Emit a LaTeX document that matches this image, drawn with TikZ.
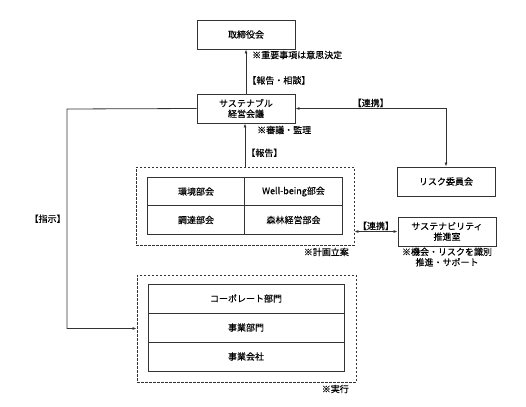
\documentclass[tikz,border=0pt]{standalone}
\usepackage{fontspec}
\setmainfont{Noto Sans CJK JP}[FakeBold=0.2]
\usetikzlibrary{arrows.meta}
\tikzset{
  orgbox/.style = {shape=rectangle, draw=black!80, line width=0.9pt,
                   align=center, inner sep=1pt,
                   minimum width=98pt, minimum height=29pt},
  cell/.style   = {orgbox, minimum width=97.5pt, minimum height=28.5pt},
  row/.style    = {orgbox, minimum width=196pt, minimum height=29pt},
  group/.style  = {shape=rectangle, draw=black!80, line width=0.8pt,
                   dash pattern=on 2.5pt off 1.5pt, inner sep=0pt},
  note/.style   = {inner sep=1pt, align=center},
  link/.style   = {draw=black!80, line width=0.8pt,
                   -{Latex[length=4pt,width=3pt]}},
  duplex/.style = {link, {Latex[length=4pt,width=3pt]}-{Latex[length=4pt,width=3pt]}}
}

\begin{document}
\begin{tikzpicture}[x=1pt, y=-1pt, font=\fontsize{9pt}{10.5pt}\selectfont]
 \useasboundingbox (0,0) rectangle (526,406);

 % top
 \node[orgbox] (board)  at (246,34.5)  {取締役会};
 \node[orgbox] (smc)    at (246,108.5) {サステナブル\\経営会議};
 \node[orgbox] (risk)   at (446,181.5) {リスク委員会};
 \node[orgbox] (office) at (447,231.5) {サステナビリティ\\推進室};

 % planning group
 \node[group, minimum width=218pt, minimum height=78pt] (plan) at (245,206) {};
 \node[cell] (env)    at (196,191.5) {環境部会};
 \node[cell] (well)   at (293.5,191.5) {Well-being部会};
 \node[cell] (proc)   at (196,220) {調達部会};
 \node[cell] (forest) at (293.5,220) {森林経営部会};

 % execution group
 \node[group, minimum width=219pt, minimum height=107pt] (exec) at (246.5,328.5) {};
 \node[row] (corp)  at (246,298.5) {コーポレート部門};
 \node[row] (biz)   at (246,327.5) {事業部門};
 \node[row] (group) at (246,356.5) {事業会社};

 % notes
 \node[note, anchor=west] at (251,55)  {※重要事項は意思決定};
 \node[note, anchor=west] at (256,130) {※審議・監理};
 \node[note, anchor=east] at (350,252) {※計画立案};
 \node[note, anchor=north] at (office.south) {※機会・リスクを識別\\推進・サポート};
 \node[note, anchor=east] at (350,389) {※実行};

 % connectors
 \coordinate (turn) at (67,109);
 \draw[link] (smc) -- node[pos=0.3, right, note] {【報告・相談】} (board);
 \draw[link] (plan.north) -- node[pos=0.32, right, note] {【報告】} (plan.north |- smc.south);
 \draw[link] (smc.west) -- (turn) |- node[pos=0.25, left, note] {【指示】} (exec.west);
 \draw[duplex] (smc.east) -| node[pos=0.25, above, note] {【連携】} (risk.north);
 \draw[duplex] (plan.east |- office.west) -- node[above, note] {【連携】} (office.west);
\end{tikzpicture}
\end{document}
